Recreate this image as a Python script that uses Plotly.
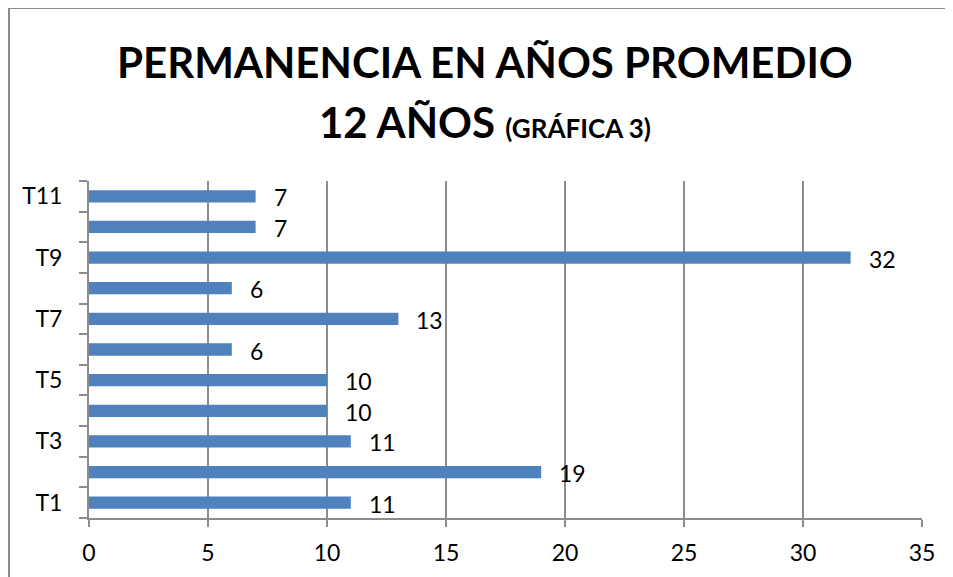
import plotly.graph_objects as go

labels = ["T1", "T2", "T3", "T4", "T5", "T6", "T7", "T8", "T9", "T10", "T11"]
values = [11, 19, 11, 10, 10, 6, 13, 6, 32, 7, 7]
x_ticks = [0, 5, 10, 15, 20, 25, 30, 35]

pos = list(range(1, len(labels) + 1))
FONT = "Lato, Carlito, Calibri, sans-serif"
GRAY = "#8c8c8c"

fig = go.Figure()
fig.add_trace(go.Bar(
    x=values, y=pos, orientation="h",
    marker=dict(color="#4F81BD", line=dict(width=0)),
    width=0.4, hoverinfo="skip",
))

for v, p in zip(values, pos):
    fig.add_annotation(x=v, y=p, text=str(v), showarrow=False,
                       xanchor="left", yanchor="middle", xshift=16, yshift=-1,
                       font=dict(family=FONT, size=23, color="#000000"))

fig.add_annotation(
    xref="paper", yref="paper", x=0.475, y=1.353, yanchor="middle",
    showarrow=False, align="center",
    text="<b>PERMANENCIA EN AÑOS PROMEDIO</b>",
    font=dict(family=FONT, size=42, color="#000000"),
)
fig.add_annotation(
    xref="paper", yref="paper", x=0.475, y=1.175, yanchor="middle",
    showarrow=False, align="center",
    text="<b>12 AÑOS <span style='font-size:26px'>(GRÁFICA 3)</span></b>",
    font=dict(family=FONT, size=42, color="#000000"),
)

# chart frame: left and top edges (the others fall outside the picture)
fig.add_shape(type="line", xref="paper", yref="paper",
              x0=-0.0960, x1=-0.0960, y0=-0.3, y1=1.513,
              line=dict(color="#8a8a8a", width=2))
fig.add_shape(type="line", xref="paper", yref="paper",
              x0=-0.0960, x1=1.2, y0=1.513, y1=1.513,
              line=dict(color="#8a8a8a", width=2))

fig.update_layout(
    width=945, height=569,
    margin=dict(l=81, r=31, t=173, b=59),
    paper_bgcolor="white", plot_bgcolor="white",
    showlegend=False,
    font=dict(family=FONT, size=23, color="#000000"),
)
fig.update_xaxes(
    range=[0, 35], tickvals=x_ticks, ticktext=[str(t) for t in x_ticks],
    showgrid=True, gridcolor=GRAY, gridwidth=2,
    showline=True, linecolor=GRAY, linewidth=2,
    ticks="outside", ticklen=7, tickcolor=GRAY, tickwidth=2,
    ticklabelstandoff=6, zeroline=False,
    tickfont=dict(family=FONT, size=23, color="#000000"),
)
fig.update_yaxes(
    range=[0.5, 11.5],
    tickvals=pos[::2], ticktext=labels[::2],
    showgrid=False, zeroline=False,
    showline=True, linecolor=GRAY, linewidth=2,
    ticks="", ticklabelstandoff=20,
    minor=dict(tickvals=[p - 0.5 for p in pos] + [pos[-1] + 0.5],
               ticks="outside", ticklen=8, tickcolor=GRAY, tickwidth=2, showgrid=False),
    tickfont=dict(family=FONT, size=23, color="#000000"),
)

fig.write_html("out.html")
